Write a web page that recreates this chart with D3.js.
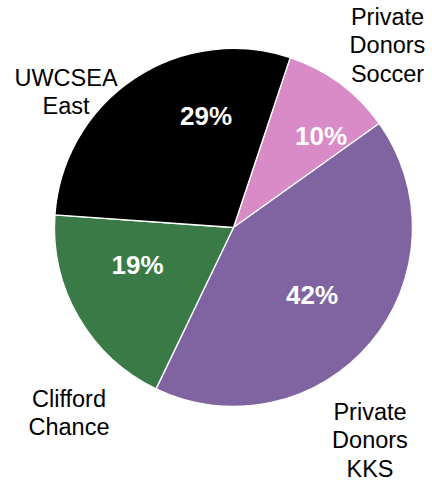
<!DOCTYPE html>
<html><head><meta charset="utf-8">
<script src="https://cdn.jsdelivr.net/npm/d3@7"></script>
<style>body{margin:0;background:#fff}svg{display:block}</style>
</head><body>
<svg id="c" width="432" height="482"></svg>
<script>
const categories = ["Private Donors Soccer", "Private Donors KKS", "Clifford Chance", "UWCSEA East"];
const labelLines = [["Private","Donors","Soccer"],["Private","Donors","KKS"],["Clifford","Chance"],["UWCSEA","East"]];
const values = [10, 42, 19, 29];
const colors = ["#d98bc8", "#8064a2", "#3a7a46", "#000000"];

// layout
const W = 432, H = 482, cx = 233.5, cy = 227.5, R = 179;
const startDeg = 18.45;
const pctPos = [[87.5,-91.5],[78.5,67.5],[-96,37.5],[-27.5,-111.5]]; // label centers relative to pie center
const catPos = [[154,-202.5],[136.5,192.5],[-164.5,179],[-167.5,-141.5]]; // first baseline relative to center
const lineH = 28.3;

const svg = d3.select("#c");
const g = svg.append("g").attr("transform", `translate(${cx},${cy})`);
const pie = d3.pie().sort(null).value(d => d)
  .startAngle(startDeg*Math.PI/180).endAngle(startDeg*Math.PI/180 + 2*Math.PI);
const arcs = pie(values);
const arc = d3.arc().innerRadius(0).outerRadius(R);
g.selectAll("path").data(arcs).join("path")
  .attr("d", arc).attr("fill", (d,i) => colors[i])
  .attr("stroke", "#fff").attr("stroke-width", 1.3).attr("stroke-linejoin","round");

const total = d3.sum(values);
g.selectAll("text.pct").data(arcs).join("text").attr("class","pct")
  .attr("x", (d,i) => pctPos[i][0]).attr("y", (d,i) => pctPos[i][1])
  .attr("dy", "0.36em").attr("text-anchor","middle")
  .attr("font-family","'Liberation Sans', Arial, sans-serif").attr("font-weight","bold")
  .attr("font-size", 26).attr("fill","#fff")
  .text(d => Math.round(d.data/total*100) + "%");

const cl = g.selectAll("text.cat").data(categories).join("text").attr("class","cat")
  .attr("text-anchor","middle")
  .attr("font-family","'Liberation Sans', Arial, sans-serif").attr("font-size", 23.5).attr("fill","#000");
cl.each(function(d,i){
  const t = d3.select(this);
  labelLines[i].forEach((ln,j) => {
    t.append("tspan").attr("x", catPos[i][0]).attr("y", catPos[i][1] + j*lineH).text(ln);
  });
});
</script>
</body></html>
